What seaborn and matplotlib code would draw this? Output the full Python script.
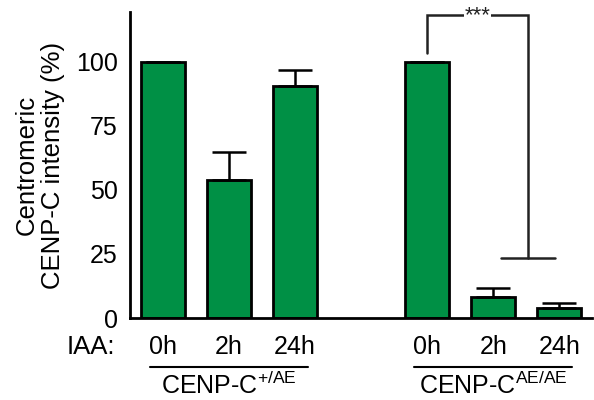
import numpy as np
import pandas as pd
import matplotlib
matplotlib.use("Agg")
import matplotlib.pyplot as plt
import seaborn as sns

# data
times = ["0h", "2h", "24h"]
groups = ["CENP-C$^{+/AE}$", "CENP-C$^{AE/AE}$"]
het_mean = [100, 54, 90.5]
het_err = [0, 11, 6.3]
hom_mean = [100, 8.2, 3.9]
hom_err = [0, 3.5, 1.9]

sns.set_style("white")
plt.rcParams["font.family"] = ["Liberation Sans", "DejaVu Sans"]
plt.rcParams["mathtext.default"] = "regular"
plt.rcParams["text.color"] = "black"
plt.rcParams["axes.labelcolor"] = "black"
plt.rcParams["xtick.color"] = "black"
plt.rcParams["ytick.color"] = "black"

# one empty slot between the two genotypes
slots = ["h0", "h2", "h24", "gap", "a0", "a2", "a24"]
df = pd.DataFrame({
    "slot": ["h0", "h2", "h24", "a0", "a2", "a24"],
    "mean": het_mean + hom_mean,
    "err": het_err + hom_err,
})

fig = plt.figure(figsize=(5.94, 4.0), dpi=100)
ax = fig.add_axes([0.219, 0.205, 0.778, 0.765])

sns.barplot(data=df, x="slot", y="mean", order=slots, color="#009045",
            saturation=1, width=0.67, edgecolor="black", linewidth=2,
            errorbar=None, ax=ax)

pos = np.array([slots.index(s) for s in df["slot"]])
ax.errorbar(pos, df["mean"], yerr=[np.zeros(len(df)), df["err"]], fmt="none",
            ecolor="black", elinewidth=1.8, capsize=12, capthick=1.8, zorder=1)

ax.set_xlim(-0.5, 6.5)
ax.set_ylim(0, 119.5)
ax.set_yticks([0, 25, 50, 75, 100])
ax.set_xticks(pos)
ax.set_xticklabels(times + times)
ax.set_xlabel("")
ax.set_ylabel("Centromeric\nCENP-C intensity (%)", fontsize=18.5, labelpad=8,
              linespacing=1.1)
ax.tick_params(axis="both", direction="out", length=8, width=2, labelsize=18,
               pad=3)
ax.tick_params(axis="x", pad=4)
ax.tick_params(axis="y", pad=1)
for s in ["top", "right"]:
    ax.spines[s].set_visible(False)
for s in ["left", "bottom"]:
    ax.spines[s].set_linewidth(2)
    ax.spines[s].set_color("black")

# IAA label
ax.text(-0.72, -11.3, "IAA:", ha="right", va="center", fontsize=18.5,
        clip_on=False)

# genotype underlines
for centre, name in zip([1, 5], groups):
    ax.plot([centre - 1.2, centre + 1.2], [-19, -19], color="black", lw=1.5,
            clip_on=False)
    ax.text(centre, -21, name, ha="center", va="top", fontsize=18,
            clip_on=False)

# significance bracket
c = "#222222"
xl, xr, ytop = 4, 5.53, 118.3
ax.plot([xl, xl, xr, xr], [103.5, ytop, ytop, 23.4], color=c, lw=1.8,
        clip_on=False, solid_joinstyle="miter")
ax.plot([5.12, 5.94], [23.4, 23.4], color=c, lw=1.8)
ax.text((xl + xr) / 2, ytop - 0.3, "***", ha="center", va="center",
        fontsize=16, color=c, clip_on=False,
        bbox=dict(facecolor="white", edgecolor="none", pad=0.3))

fig.savefig("out.png", dpi=100)
